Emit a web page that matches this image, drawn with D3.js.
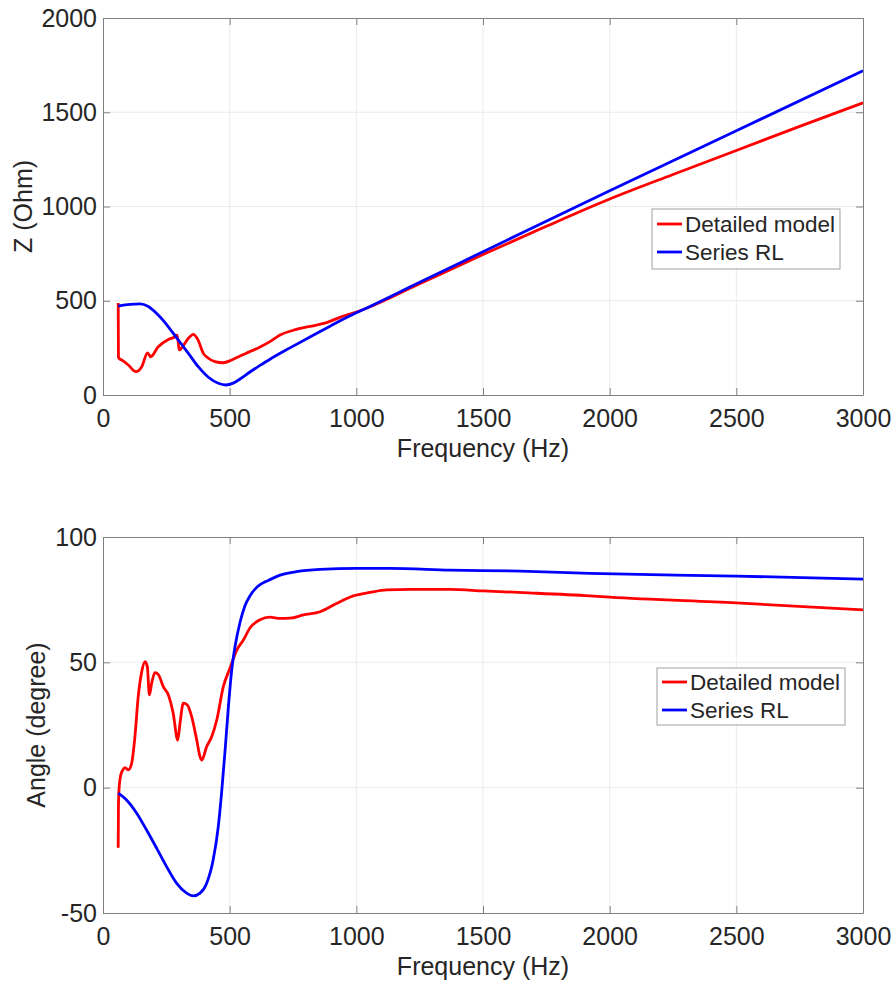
<!DOCTYPE html>
<html>
<head>
<meta charset="utf-8">
<script src="https://cdn.jsdelivr.net/npm/d3@7"></script>
<style>
  html, body { margin: 0; padding: 0; background: #fff; }
  svg { display: block; }
  text { font-family: "Liberation Sans", Arial, Helvetica, sans-serif; fill: #262626; }
</style>
</head>
<body>
<svg id="chart" width="894" height="983"></svg>
<script>
// Impedance magnitude, detailed model: frequency (Hz) and |Z| (Ohm)
const zDetailedFreq = [60, 61, 65, 74, 100, 130, 153, 176, 188, 218, 258, 284, 293, 301, 314, 337, 357, 374, 396, 416, 442, 475, 508, 541, 580, 620, 659, 699, 764, 843, 883, 935, 1000, 1250, 1500, 1750, 2000, 2250, 2500, 2750, 3000];
const zDetailed     = [488, 200, 192, 186, 159, 124, 150, 224, 203, 256, 295, 309, 318, 239, 256, 301, 322, 295, 221, 195, 177, 171, 186, 207, 230, 255, 283, 318, 348, 371, 384, 412, 440, 590, 745, 895, 1040, 1170, 1297, 1425, 1550];

// Impedance magnitude, series RL equivalent
const zSeriesFreq = [60, 107, 146, 179, 218, 258, 297, 337, 376, 416, 455, 485, 514, 541, 580, 620, 659, 738, 817, 896, 975, 1054, 1250, 1500, 2000, 2500, 3000];
const zSeries     = [472, 481, 483, 469, 424, 362, 292, 221, 150, 94, 62, 53, 63, 85, 122, 157, 190, 250, 308, 365, 420, 470, 598, 760, 1084, 1402, 1720];

// Phase angle, detailed model (degree)
const aDetailedFreq = [60, 61, 63, 70, 78, 87, 100, 113, 126, 139, 153, 166, 175, 183, 192, 205, 218, 238, 258, 277, 295, 304, 317, 333, 350, 370, 383, 390, 409, 429, 449, 475, 501, 528, 554, 580, 620, 659, 700, 738, 791, 857, 922, 988, 1054, 1120, 1212, 1370, 1501, 1659, 1922, 2000, 2500, 3000];
const aDetailed     = [-24, -8, -1, 5, 7, 8, 7.1, 9.7, 20.3, 36.3, 46.3, 50.3, 48.3, 37, 41.6, 45.9, 45.2, 40.3, 37, 29.7, 19, 25.7, 33.7, 33, 28.3, 19, 12.4, 11, 16.3, 20.3, 27, 40.3, 47.6, 54.9, 58.9, 63.7, 67, 68, 67.5, 67.6, 68.9, 70.2, 73.5, 76.5, 77.9, 78.9, 79.1, 79.1, 78.5, 77.8, 76.5, 76, 73.7, 70.9];

// Phase angle, series RL equivalent
const aSeriesFreq = [60, 93, 133, 172, 212, 251, 291, 330, 357, 383, 409, 435, 455, 468, 482, 495, 508, 521, 541, 560, 580, 600, 620, 640, 659, 699, 764, 857, 1001, 1133, 1370, 1646, 1922, 2500, 3000];
const aSeries     = [-2.2, -4.9, -10.2, -16.9, -24.2, -31.5, -38.2, -42.1, -43.2, -42.1, -38.2, -28.8, -15.6, -2.2, 15, 32.3, 46.9, 56.2, 66, 72.5, 76.5, 79.2, 81, 82.1, 83, 84.8, 86.2, 87.1, 87.5, 87.5, 86.8, 86.4, 85.5, 84.4, 83.2];

// Axis ticks
const freqTicks = [0, 500, 1000, 1500, 2000, 2500, 3000];
const zTicks = [0, 500, 1000, 1500, 2000];
const angleTicks = [-50, 0, 50, 100];

const seriesNames = ["Detailed model", "Series RL"];
const seriesColors = ["#ff0000", "#0000ff"];

const svg = d3.select("#chart");
const left = 103, right = 863;
const plainNumber = d => String(d);

function drawPanel(cfg) {
  const x = d3.scaleLinear().domain([0, 3000]).range([left, right]);
  const y = d3.scaleLinear().domain(cfg.yDomain).range([cfg.bottom, cfg.top]);
  const g = svg.append("g");

  // grid
  g.append("g").selectAll("line").data(freqTicks.slice(1, -1)).join("line")
    .attr("x1", d => x(d)).attr("x2", d => x(d))
    .attr("y1", cfg.top).attr("y2", cfg.bottom)
    .attr("stroke", "#ebebeb").attr("stroke-width", 1);
  g.append("g").selectAll("line").data(cfg.yTicks.slice(1, -1)).join("line")
    .attr("x1", left).attr("x2", right)
    .attr("y1", d => y(d)).attr("y2", d => y(d))
    .attr("stroke", "#ebebeb").attr("stroke-width", 1);

  // curves
  const line = d3.line().curve(d3.curveMonotoneX)
    .x(d => x(d[0])).y(d => y(d[1]));
  cfg.series.forEach((s, i) => {
    const pts = s.f.map((f, k) => [f, s.v[k]]);
    g.append("path").datum(pts)
      .attr("d", line)
      .attr("fill", "none")
      .attr("stroke", seriesColors[i])
      .attr("stroke-width", 2.8)
      .attr("stroke-linejoin", "round");
  });

  // axes (box with inward ticks)
  const axColor = "#808080";
  const xb = g.append("g").attr("transform", `translate(0,${cfg.bottom})`)
    .call(d3.axisBottom(x).tickValues(freqTicks).tickFormat(plainNumber).tickSizeInner(-7).tickSizeOuter(0).tickPadding(14));
  const xt = g.append("g").attr("transform", `translate(0,${cfg.top})`)
    .call(d3.axisTop(x).tickValues(freqTicks).tickSizeInner(-7).tickSizeOuter(0).tickFormat(""));
  const yl = g.append("g").attr("transform", `translate(${left},0)`)
    .call(d3.axisLeft(y).tickValues(cfg.yTicks).tickFormat(plainNumber).tickSizeInner(-7).tickSizeOuter(0).tickPadding(6));
  const yr = g.append("g").attr("transform", `translate(${right},0)`)
    .call(d3.axisRight(y).tickValues(cfg.yTicks).tickSizeInner(-7).tickSizeOuter(0).tickFormat(""));
  [xb, xt, yl, yr].forEach(a => {
    a.select(".domain").attr("stroke", axColor).attr("stroke-width", 1);
    a.selectAll(".tick line").attr("stroke", axColor);
    a.selectAll(".tick text").attr("font-size", 25).attr("fill", "#262626")
      .style("font-family", '"Liberation Sans", Arial, sans-serif');
  });

  // axis titles
  g.append("text")
    .attr("x", (left + right) / 2).attr("y", cfg.bottom + 62)
    .attr("text-anchor", "middle").attr("font-size", 25)
    .text("Frequency (Hz)");
  g.append("text")
    .attr("transform", `translate(${cfg.yLabelX},${(cfg.top + cfg.bottom) / 2}) rotate(-90)`)
    .attr("text-anchor", "middle").attr("font-size", 25)
    .text(cfg.yLabel);

  // legend
  const L = cfg.legend;
  const lg = g.append("g").attr("transform", `translate(${L.x},${L.y})`);
  lg.append("rect").attr("width", L.w).attr("height", L.h)
    .attr("fill", "#fff").attr("stroke", "#a0a0a0").attr("stroke-width", 1);
  seriesNames.forEach((name, i) => {
    const cy = L.row0 + i * L.rowGap;
    lg.append("line").attr("x1", 5).attr("x2", 30).attr("y1", cy).attr("y2", cy)
      .attr("stroke", seriesColors[i]).attr("stroke-width", 2.8);
    lg.append("text").attr("x", 33).attr("y", cy).attr("dy", "0.35em")
      .attr("font-size", 22.5).attr("fill", "#000").text(name);
  });
}

drawPanel({
  top: 18, bottom: 395, yDomain: [0, 2000], yTicks: zTicks,
  yLabel: "Z (Ohm)", yLabelX: 32,
  series: [{ f: zDetailedFreq, v: zDetailed }, { f: zSeriesFreq, v: zSeries }],
  legend: { x: 652, y: 209, w: 188, h: 60, row0: 15, rowGap: 28 }
});

drawPanel({
  top: 537, bottom: 913, yDomain: [-50, 100], yTicks: angleTicks,
  yLabel: "Angle (degree)", yLabelX: 45,
  series: [{ f: aDetailedFreq, v: aDetailed }, { f: aSeriesFreq, v: aSeries }],
  legend: { x: 657, y: 668, w: 188, h: 57, row0: 14, rowGap: 28 }
});
</script>
</body>
</html>
